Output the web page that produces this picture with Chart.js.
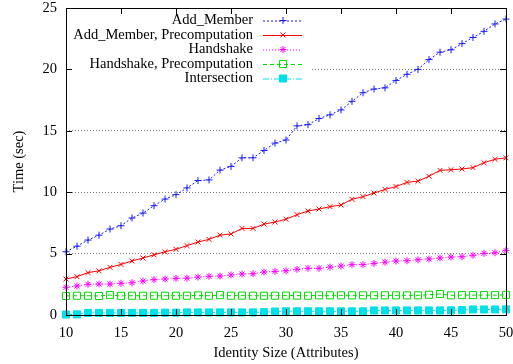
<!DOCTYPE html>
<html>
<head>
<meta charset="utf-8">
<script src="https://cdn.jsdelivr.net/npm/chart.js@4.4.1/dist/chart.umd.min.js"></script>
<style>
  html, body { margin: 0; padding: 0; background: #fff; }
  #wrap { width: 513px; height: 364px; }
</style>
</head>
<body>
<div id="wrap"><canvas id="chart-lines"></canvas></div>
<script>
// identity size (number of attributes)
const sizes = [10, 11, 12, 13, 14, 15, 16, 17, 18, 19, 20, 21, 22, 23, 24, 25, 26, 27, 28, 29, 30,
  31, 32, 33, 34, 35, 36, 37, 38, 39, 40, 41, 42, 43, 44, 45, 46, 47, 48, 49, 50];

const addMember = [5.15, 5.6, 6.1, 6.5, 7.0, 7.27, 7.9, 8.3, 8.9, 9.44, 9.8, 10.35, 10.95, 11.0, 11.8,
  12.1, 12.8, 12.8, 13.4, 14.0, 14.25, 15.4, 15.5, 16.0, 16.3, 16.7, 17.4, 18.1, 18.4, 18.5, 19.1,
  19.6, 20.0, 20.8, 21.4, 21.6, 22.1, 22.6, 23.1, 23.7, 24.1];
const addMemberPre = [2.93, 3.12, 3.45, 3.6, 3.88, 4.12, 4.4, 4.64, 4.9, 5.15, 5.35, 5.65, 5.94, 6.16,
  6.5, 6.6, 7.05, 7.05, 7.4, 7.57, 7.8, 8.17, 8.47, 8.63, 8.82, 8.96, 9.42, 9.64, 9.93, 10.23, 10.46,
  10.8, 10.9, 11.3, 11.78, 11.83, 11.89, 12.0, 12.4, 12.68, 12.8];
const handshake = [2.25, 2.36, 2.5, 2.52, 2.52, 2.58, 2.63, 2.77, 2.88, 2.93, 2.98, 3.0, 3.09, 3.15,
  3.17, 3.26, 3.34, 3.36, 3.5, 3.55, 3.6, 3.72, 3.8, 3.8, 3.9, 3.99, 4.1, 4.1, 4.2, 4.3, 4.4, 4.42,
  4.5, 4.56, 4.64, 4.72, 4.75, 4.86, 5.02, 5.07, 5.26];
const handshakePre = [1.55, 1.57, 1.57, 1.55, 1.62, 1.56, 1.57, 1.57, 1.57, 1.57, 1.57, 1.57, 1.6,
  1.57, 1.62, 1.57, 1.58, 1.57, 1.57, 1.57, 1.58, 1.58, 1.57, 1.6, 1.6, 1.6, 1.6, 1.6, 1.6, 1.6, 1.6,
  1.6, 1.6, 1.65, 1.71, 1.6, 1.62, 1.62, 1.62, 1.62, 1.64];
const intersection = [0.04, 0.05, 0.17, 0.17, 0.17, 0.17, 0.17, 0.17, 0.17, 0.19, 0.19, 0.21, 0.21,
  0.21, 0.21, 0.21, 0.21, 0.21, 0.23, 0.28, 0.3, 0.3, 0.3, 0.3, 0.3, 0.3, 0.3, 0.3, 0.37, 0.37, 0.37,
  0.37, 0.37, 0.37, 0.37, 0.38, 0.4, 0.45, 0.45, 0.45, 0.46];

const xTicks = [10, 15, 20, 25, 30, 35, 40, 45, 50];
const yTicks = [0, 5, 10, 15, 20, 25];

const seriesNames = ['Add_Member', 'Add_Member, Precomputation', 'Handshake',
  'Handshake, Precomputation', 'Intersection'];

const FONT = 'Liberation Serif';

function pts(values) {
  return sizes.map((s, i) => ({ x: s, y: values[i] }));
}

function makeSet(label, values, color, dash, style, radius, fill) {
  return {
    label: label,
    data: pts(values),
    borderColor: color,
    borderWidth: 1,
    borderDash: dash,
    pointStyle: style,
    pointRadius: radius,
    pointBorderColor: color,
    pointBackgroundColor: fill ? color : 'rgba(0,0,0,0)',
    pointBorderWidth: 1,
    tension: 0,
    clip: 8
  };
}

const datasets = [
  makeSet(seriesNames[0], addMember, '#1a1aff', [2, 2], 'cross', 3.5, false),
  makeSet(seriesNames[1], addMemberPre, '#ff0000', [], 'crossRot', 3.5, false),
  makeSet(seriesNames[2], handshake, '#ff00ff', [1, 2], 'star', 3.5, false),
  makeSet(seriesNames[3], handshakePre, '#00dd00', [4, 3], 'rect', 5, false),
  makeSet(seriesNames[4], intersection, '#00e0e8', [6, 2, 1, 2], 'rect', 5, true)
];

// gnuplot style frame, inward ticks and key box
const framePlugin = {
  id: 'frame',
  beforeDatasetsDraw(chart) {
    const a = chart.chartArea;
    const c = chart.ctx;
    c.save();
    c.fillStyle = '#fff';
    c.fillRect(a.left + 1, a.top + 1, 245, 78);
    c.restore();
  },
  afterDraw(chart) {
    const a = chart.chartArea;
    const c = chart.ctx;
    const xs = chart.scales.x;
    const ys = chart.scales.y;
    c.save();
    c.strokeStyle = '#000';
    c.lineWidth = 1;
    c.setLineDash([]);
    c.beginPath();
    xTicks.forEach(v => {
      const px = Math.round(xs.getPixelForValue(v)) + 0.5;
      c.moveTo(px, a.bottom); c.lineTo(px, a.bottom - 6);
      c.moveTo(px, a.top); c.lineTo(px, a.top + 6);
    });
    yTicks.forEach(v => {
      const py = Math.round(ys.getPixelForValue(v)) + 0.5;
      c.moveTo(a.left, py); c.lineTo(a.left + 6, py);
      c.moveTo(a.right, py); c.lineTo(a.right - 6, py);
    });
    c.stroke();
    c.strokeRect(Math.round(a.left) + 0.5, Math.round(a.top) + 0.5,
      Math.round(a.right - a.left), Math.round(a.bottom - a.top));

    // key
    c.font = '14.5px "' + FONT + '"';
    c.textAlign = 'right';
    c.textBaseline = 'middle';
    datasets.forEach((ds, i) => {
      const y = a.top + 12.5 + i * 14.5;
      c.fillStyle = '#000';
      c.fillText(ds.label, a.left + 187, y);
      c.strokeStyle = ds.borderColor;
      c.lineWidth = 1;
      c.setLineDash(ds.borderDash);
      c.beginPath();
      c.moveTo(a.left + 197, y + 0.5);
      c.lineTo(a.left + 236, y + 0.5);
      c.stroke();
      c.setLineDash([]);
      c.strokeStyle = ds.pointBorderColor;
      c.fillStyle = ds.pointBackgroundColor;
      Chart.helpers.drawPoint(c, {
        pointStyle: ds.pointStyle,
        radius: ds.pointRadius,
        borderWidth: 1,
        rotation: 0
      }, a.left + 217, y);
    });
    c.restore();
  }
};

new Chart(document.getElementById('chart-lines').getContext('2d'), {
  type: 'line',
  data: { datasets: datasets },
  options: {
    responsive: true,
    maintainAspectRatio: false,
    animation: false,
    layout: { padding: { top: 8, right: 7, left: 0, bottom: 0 } },
    plugins: {
      legend: { display: false },
      tooltip: { enabled: false }
    },
    scales: {
      x: {
        type: 'linear',
        min: 10,
        max: 50,
        afterFit: function(scale) {
          scale.height = 49;
          scale.paddingLeft = 0;
          scale.paddingRight = 0;
        },
        afterBuildTicks: function(scale) { scale.ticks = xTicks.map(v => ({ value: v })); },
        grid: { display: false, drawTicks: false },
        border: { display: false },
        ticks: { color: '#000', padding: 9, font: { family: FONT, size: 14.5 } },
        title: {
          display: true,
          text: 'Identity Size (Attributes)',
          color: '#000',
          padding: { top: 0, bottom: 2 },
          font: { family: FONT, size: 14.5 }
        }
      },
      y: {
        min: 0,
        max: 25,
        afterFit: function(scale) {
          scale.width = 66;
          scale.paddingTop = 0;
          scale.paddingBottom = 0;
        },
        afterBuildTicks: function(scale) { scale.ticks = yTicks.map(v => ({ value: v })); },
        grid: {
          drawTicks: false,
          lineWidth: 1,
          color: function(ctx) {
            const v = ctx.tick ? ctx.tick.value : null;
            return (v === 0 || v === 25) ? 'rgba(0,0,0,0)' : '#777';
          }
        },
        border: { display: false, dash: [1, 2] },
        ticks: { color: '#000', padding: 9, font: { family: FONT, size: 14.5 } },
        title: {
          display: true,
          text: 'Time (sec)',
          color: '#000',
          padding: { top: 10, bottom: 0 },
          font: { family: FONT, size: 14.5 }
        }
      }
    }
  },
  plugins: [framePlugin]
});
</script>
</body>
</html>
